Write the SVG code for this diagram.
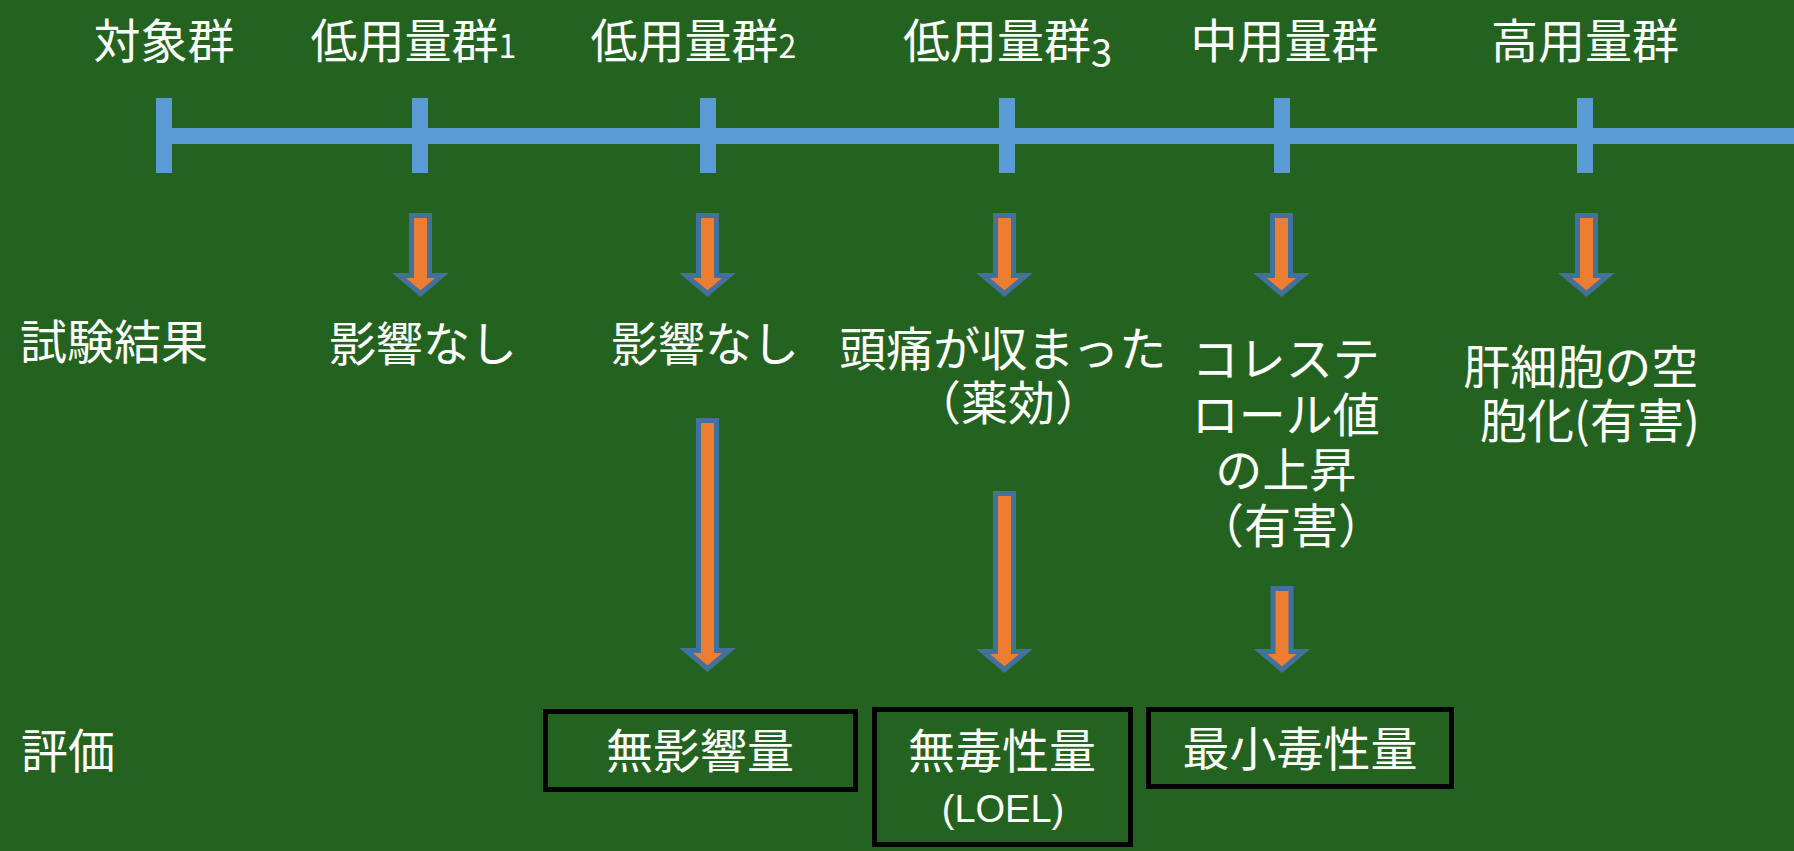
<svg xmlns="http://www.w3.org/2000/svg" width="1794" height="851" viewBox="0 0 1794 851">
  <style>
    .t { font-family: "Noto Sans CJK JP", "Noto Sans CJK SC", sans-serif; font-size: 47px; fill: #ffffff; }
    .m { text-anchor: middle; }
    .d { font-size: 32px; }
    .lat { font-family: "Liberation Sans", Arial, sans-serif; font-size: 38px; }
    .axis { fill: #5B9BD5; }
    .arr { fill: #ED7D31; stroke: #41719C; stroke-width: 5; stroke-linejoin: miter; }
    .box { fill: none; stroke: #000000; stroke-width: 5; }
  </style>
  <rect x="0" y="0" width="1794" height="851" fill="#23631F"/>

  <g id="axis">
    <rect class="axis" x="156" y="128" width="1638" height="16"/>
    <rect class="axis" x="156" y="98" width="16" height="75"/>
    <rect class="axis" x="412" y="98" width="16" height="75"/>
    <rect class="axis" x="700" y="98" width="16" height="75"/>
    <rect class="axis" x="999" y="98" width="16" height="75"/>
    <rect class="axis" x="1274" y="98" width="16" height="75"/>
    <rect class="axis" x="1577" y="98" width="16" height="75"/>
  </g>

  <g id="group-labels">
    <text id="label-control" class="t m" x="164" y="58">対象群</text>
    <text id="label-low1" class="t" x="310.5" y="58">低用量群<tspan class="d">1</tspan></text>
    <text id="label-low2" class="t" x="590.5" y="58">低用量群<tspan class="d">2</tspan></text>
    <text id="label-low3" class="t" x="903" y="58">低用量群<tspan class="d" style="font-size:38px" dy="9">3</tspan></text>
    <text id="label-mid" class="t m" x="1284.5" y="58">中用量群</text>
    <text id="label-high" class="t m" x="1585" y="58">高用量群</text>
  </g>

  <g id="connectors">
    <path class="arr" d="M411.5,215.5 L429.5,215.5 L429.5,275.5 L442,275.5 L420.5,293.7 L399,275.5 L411.5,275.5 Z"/>
    <path class="arr" d="M698.5,215.5 L716.5,215.5 L716.5,275.5 L729,275.5 L707.5,293.7 L686,275.5 L698.5,275.5 Z"/>
    <path class="arr" d="M995.5,215.5 L1013.5,215.5 L1013.5,275.5 L1026,275.5 L1004.5,293.7 L983,275.5 L995.5,275.5 Z"/>
    <path class="arr" d="M1272.5,215.5 L1290.5,215.5 L1290.5,275.5 L1303,275.5 L1281.5,293.7 L1260,275.5 L1272.5,275.5 Z"/>
    <path class="arr" d="M1577.5,215.5 L1595.5,215.5 L1595.5,275.5 L1608,275.5 L1586.5,293.7 L1565,275.5 L1577.5,275.5 Z"/>
    <path class="arr" d="M698.5,420.5 L716.5,420.5 L716.5,650.5 L729,650.5 L707.5,668.7 L686,650.5 L698.5,650.5 Z"/>
    <path class="arr" d="M995.5,493.5 L1013.5,493.5 L1013.5,651.5 L1026,651.5 L1004.5,669.7 L983,651.5 L995.5,651.5 Z"/>
    <path class="arr" d="M1273,588.5 L1291,588.5 L1291,651.5 L1303.5,651.5 L1282,669.7 L1260.5,651.5 L1273,651.5 Z"/>
  </g>

  <g id="row-results">
    <text id="label-results" class="t" x="20" y="358.5">試験結果</text>
    <text id="result-low1" class="t m" x="423" y="361">影響なし</text>
    <text id="result-low2" class="t m" x="705" y="361">影響なし</text>
    <text id="result-low3" class="t m" x="1008">
      <tspan x="1008" y="366">頭痛が収まった</tspan>
      <tspan x="1008" y="420">（薬効）</tspan>
    </text>
    <text id="result-mid" class="t m" x="1291">
      <tspan x="1291" y="376">コレステ</tspan>
      <tspan x="1291" y="431.5">ロール値</tspan>
      <tspan x="1291" y="487">の上昇</tspan>
      <tspan x="1291" y="542.5">（有害）</tspan>
    </text>
    <text id="result-high" class="t m" x="1587">
      <tspan x="1586" y="384">肝細胞の空</tspan>
      <tspan x="1590" y="438">胞化(有害)</tspan>
    </text>
  </g>

  <g id="row-evaluation">
    <text id="label-evaluation" class="t" x="21" y="768">評価</text>
    <g id="box-noel">
      <rect class="box" x="545.5" y="711.5" width="310" height="78"/>
      <text class="t m" x="700" y="768">無影響量</text>
    </g>
    <g id="box-noael">
      <rect class="box" x="874.5" y="709.5" width="256" height="135"/>
      <text class="t m" x="1002" y="768">無毒性量</text>
      <text class="t m lat" x="1003" y="822">(LOEL)</text>
    </g>
    <g id="box-loael">
      <rect class="box" x="1148.5" y="709.5" width="303" height="77"/>
      <text class="t m" x="1300" y="766">最小毒性量</text>
    </g>
  </g>
</svg>
